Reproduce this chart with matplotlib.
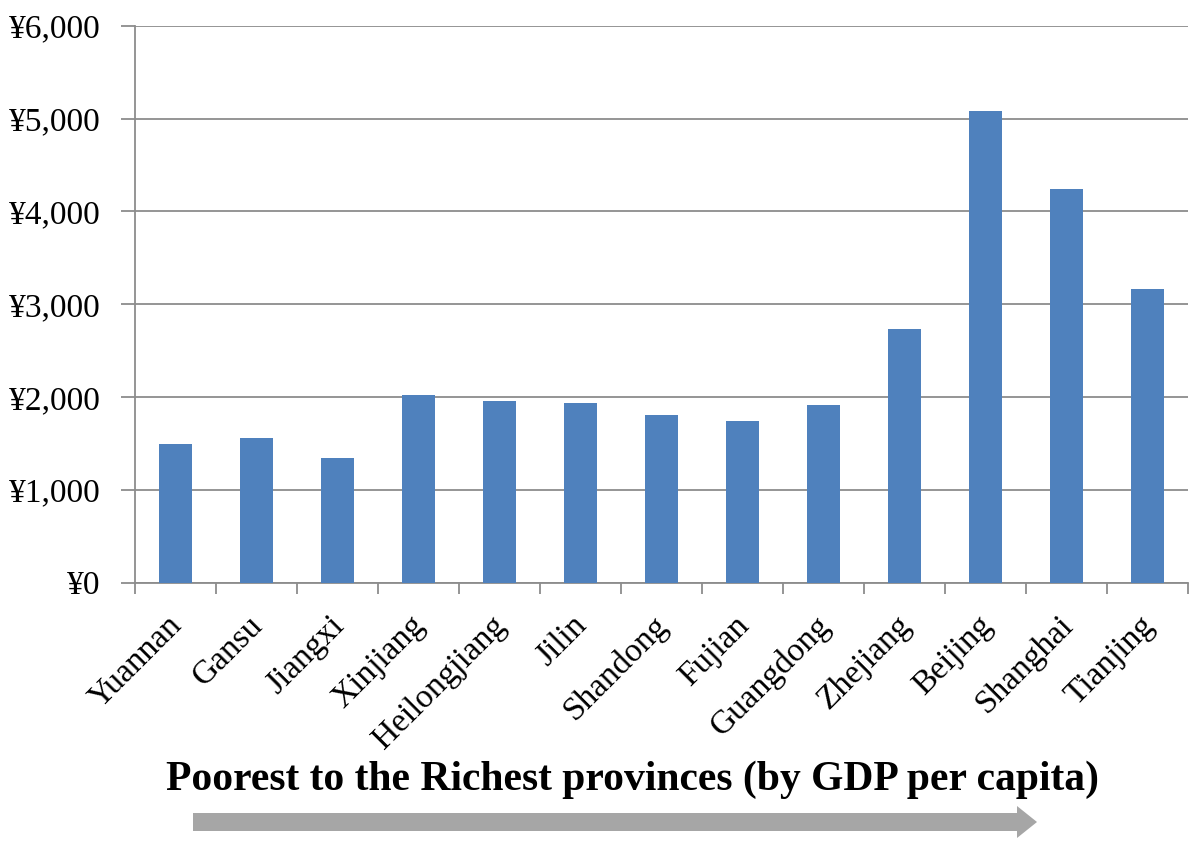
import matplotlib
matplotlib.use("Agg")
import matplotlib.pyplot as plt
from matplotlib.patches import Polygon
from matplotlib.ticker import FuncFormatter, FixedLocator
import matplotlib.transforms as mtransforms
import numpy as np

provinces = ["Yuannan", "Gansu", "Jiangxi", "Xinjiang", "Heilongjiang", "Jilin",
             "Shandong", "Fujian", "Guangdong", "Zhejiang", "Beijing", "Shanghai", "Tianjing"]
values = [1490, 1555, 1345, 2022, 1958, 1936, 1806, 1742, 1915, 2730, 5086, 4245, 3160]
y_ticks = [0, 1000, 2000, 3000, 4000, 5000, 6000]
xlabel_text = "Poorest to the Richest provinces (by GDP per capita)"

plt.rcParams['font.family'] = ['Liberation Serif', 'DejaVu Serif']

W, H = 1200, 852
fig = plt.figure(figsize=(W / 100, H / 100), dpi=100)
ax = fig.add_axes([135 / W, 1 - 582.7 / H, (1188 - 135) / W, (582.7 - 25.7) / H])

x = np.arange(len(provinces))
ax.bar(x, values, width=0.4, color="#4F81BD", zorder=3)

ax.set_xlim(-0.5, len(provinces) - 0.5)
ax.set_ylim(0, 6000)
ax.set_yticks(y_ticks)
ax.yaxis.set_major_formatter(FuncFormatter(lambda v, p: "\u00a5{:,.0f}".format(v)))
ax.yaxis.grid(True, color="#8C8C8C", linewidth=1.3, zorder=0)

ax.set_xticks(x)
ax.set_xticklabels(provinces, rotation=45, ha="right", va="top", rotation_mode="anchor", fontsize=24)
ax.tick_params(axis="x", which="major", length=0, pad=14)
offset = mtransforms.ScaledTranslation(-9 / 100, -8 / 100, fig.dpi_scale_trans)
for lbl in ax.get_xticklabels():
    lbl.set_transform(lbl.get_transform() + offset)
ax.xaxis.set_minor_locator(FixedLocator(np.arange(-0.5, len(provinces), 1.0)))
ax.tick_params(axis="x", which="minor", length=8, width=1.3, color="#8C8C8C")
ax.tick_params(axis="y", length=10, width=1.3, color="#8C8C8C", labelsize=24, pad=15)

for s in ["top", "right"]:
    ax.spines[s].set_visible(False)
for s in ["left", "bottom"]:
    ax.spines[s].set_color("#8C8C8C")
    ax.spines[s].set_linewidth(1.3)

fig.text(633 / W, 1 - 780 / H, xlabel_text, ha="center", va="center",
         fontsize=30, fontweight="bold")

# arrow (pixel coords converted to figure fractions)
pts = [(193, 813), (1017, 813), (1017, 806), (1037, 822), (1017, 838), (1017, 831), (193, 831)]
arrow = Polygon([(px / W, 1 - py / H) for px, py in pts], closed=True,
                transform=fig.transFigure, facecolor="#A6A6A6", edgecolor="none")
fig.patches.append(arrow)

fig.savefig("out.png", dpi=100)
